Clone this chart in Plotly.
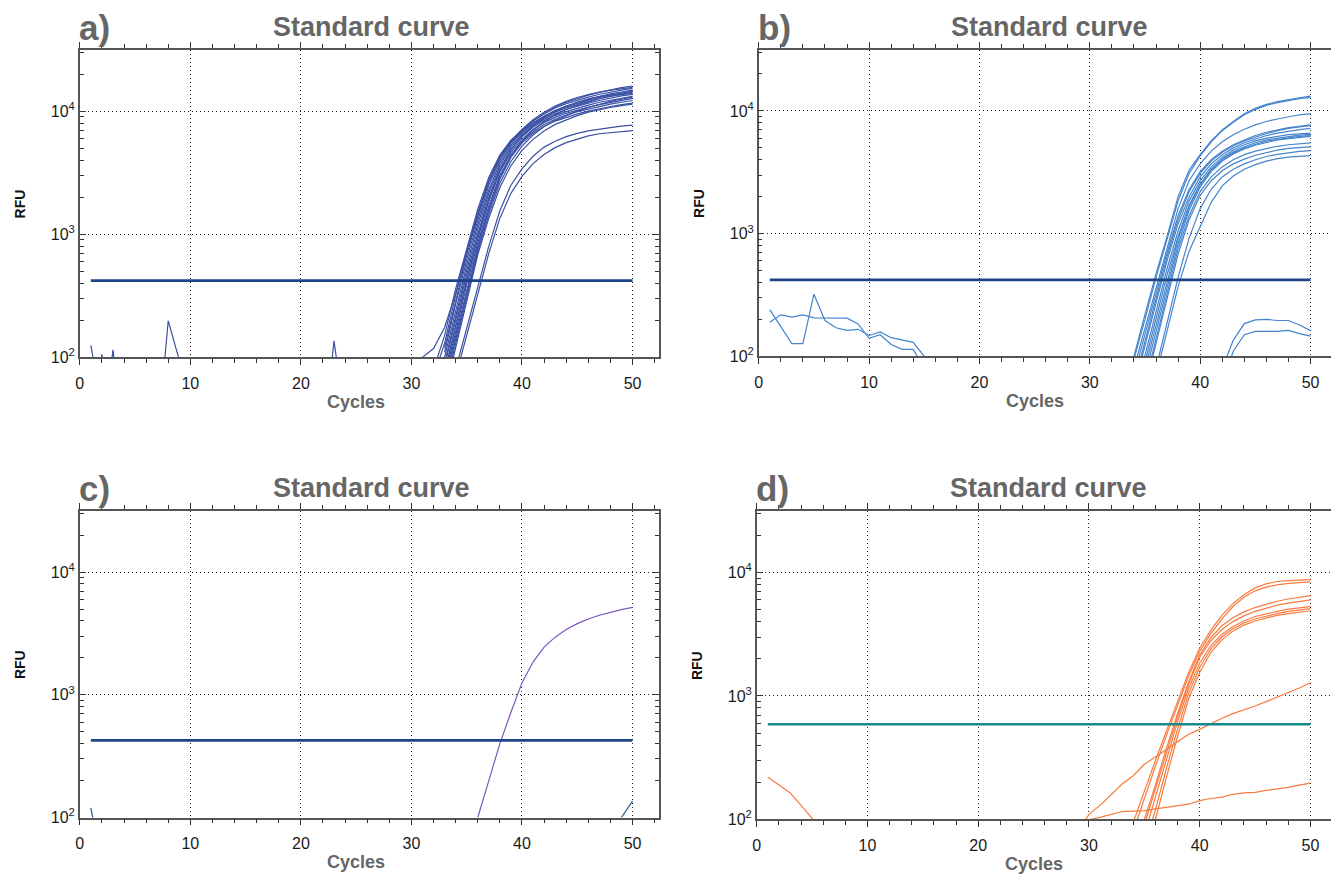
import plotly.graph_objects as go

# ---------------- data ----------------
# Panel a) : amplification curves (start cycle, RFU values per cycle)
a_starts = [32, 32, 33, 33, 33, 33, 33, 33, 33, 33, 33, 33, 33, 33, 30, 34, 34]
a_values = [
    [80, 150, 360, 780, 1600, 2900, 4400, 5800, 6900, 8300, 9500, 10800, 11800, 12700, 13500, 14200, 14900, 15500, 16000],
    [70, 130, 320, 720, 1500, 2750, 4300, 5700, 7000, 8300, 9500, 10600, 11500, 12300, 13000, 13700, 14300, 14800, 15300],
    [110, 270, 620, 1300, 2500, 4000, 5500, 6800, 8000, 9100, 10100, 11000, 11800, 12500, 13200, 13800, 14300, 14800],
    [100, 240, 560, 1200, 2300, 3800, 5300, 6600, 7800, 8900, 9800, 10600, 11300, 12000, 12600, 13200, 13700, 14200],
    [90, 220, 510, 1100, 2150, 3600, 5100, 6400, 7600, 8600, 9500, 10300, 11000, 11600, 12200, 12800, 13300, 13700],
    [85, 200, 470, 1000, 2000, 3400, 4900, 6200, 7400, 8400, 9200, 9900, 10600, 11200, 11800, 12300, 12800, 13200],
    [75, 180, 430, 920, 1850, 3200, 4600, 5900, 7100, 8100, 8900, 9600, 10200, 10800, 11300, 11800, 12300, 12700],
    [70, 160, 390, 850, 1700, 3000, 4400, 5700, 6800, 7800, 8600, 9300, 9900, 10400, 10900, 11400, 11800, 12200],
    [60, 140, 340, 760, 1550, 2800, 4200, 5500, 6600, 7500, 8300, 8900, 9500, 10000, 10500, 10900, 11300, 11600],
    [120, 290, 680, 1400, 2650, 4200, 5700, 7100, 8500, 9800, 11000, 12000, 12900, 13600, 14300, 14800, 15200, 15600],
    [75, 180, 420, 950, 1900, 3300, 4800, 6200, 7600, 8800, 9900, 10800, 11600, 12300, 12900, 13500, 14000, 14500],
    [55, 130, 320, 720, 1450, 2600, 3900, 5200, 6400, 7500, 8400, 9200, 10000, 10700, 11400, 12000, 12500, 13000],
    [50, 120, 300, 680, 1350, 2400, 3600, 4800, 5900, 6900, 7800, 8500, 9200, 9800, 10300, 10700, 11100, 11400],
    [65, 150, 360, 800, 1600, 2900, 4300, 5700, 7000, 8200, 9300, 10300, 11100, 11900, 12600, 13200, 13600, 14000],
    [60, 100, 118, 175, 330, 720, 1450, 2700, 4200, 5600, 6800, 8000, 9100, 10100, 11000, 11800, 12500, 13100, 13600, 14100, 14500],
    [80, 170, 380, 800, 1550, 2500, 3400, 4300, 5100, 5700, 6200, 6600, 6900, 7150, 7350, 7550, 7700],
    [70, 150, 330, 700, 1350, 2150, 2950, 3750, 4450, 5050, 5550, 5950, 6300, 6550, 6700, 6850, 6950],
]
# baseline noise spikes in panel a)
a_noise_starts = [1, 1, 2, 7, 22]
a_noise_values = [
    [125, 40],
    [20, 106, 20],
    [20, 115, 20],
    [20, 198, 95, 40],
    [20, 136, 30],
]

# Panel b)
b_starts = [33, 33, 34, 34, 34, 34, 34, 35, 35, 35, 35, 35, 36, 36, 1, 1, 42, 42]
b_values = [
    [60, 100, 220, 470, 950, 2000, 3300, 4400, 5700, 7000, 8200, 9500, 10500, 11300, 11900, 12400, 12800, 13200],
    [55, 95, 200, 440, 900, 1850, 3100, 4300, 5600, 6900, 8100, 9300, 10300, 11100, 11700, 12200, 12600, 12900],
    [80, 170, 370, 780, 1600, 2700, 3700, 4700, 5600, 6400, 7100, 7700, 8200, 8600, 9000, 9300, 9500],
    [70, 150, 330, 700, 1400, 2300, 3200, 4000, 4700, 5300, 5800, 6300, 6700, 7000, 7300, 7500, 7700],
    [60, 135, 300, 650, 1300, 2200, 3100, 3900, 4600, 5200, 5700, 6150, 6550, 6900, 7200, 7400, 7600],
    [55, 120, 270, 600, 1200, 2000, 2900, 3700, 4400, 5000, 5500, 5900, 6300, 6600, 6850, 7050, 7200],
    [45, 100, 230, 520, 1050, 1850, 2700, 3500, 4200, 4800, 5300, 5700, 6000, 6200, 6400, 6500, 6600],
    [90, 200, 460, 950, 1700, 2550, 3350, 4050, 4650, 5100, 5500, 5800, 6000, 6200, 6350, 6450],
    [80, 180, 420, 900, 1650, 2500, 3300, 4000, 4550, 5000, 5350, 5650, 5850, 6050, 6200, 6300],
    [70, 160, 380, 820, 1550, 2400, 3200, 3900, 4450, 4900, 5250, 5550, 5800, 5950, 6100, 6200],
    [60, 140, 340, 750, 1400, 2200, 2900, 3500, 4000, 4400, 4700, 4950, 5150, 5300, 5400, 5500],
    [55, 125, 300, 680, 1300, 2050, 2700, 3250, 3700, 4050, 4350, 4600, 4800, 4950, 5050, 5100],
    [80, 190, 440, 920, 1600, 2300, 2900, 3350, 3700, 4000, 4250, 4420, 4570, 4680, 4750],
    [70, 160, 370, 720, 1150, 1800, 2450, 2950, 3350, 3650, 3900, 4080, 4200, 4280, 4330],
    [240, 175, 127, 127, 321, 196, 171, 163, 166, 148, 158, 142, 136, 130, 100, 70],
    [190, 218, 209, 218, 206, 206, 205, 205, 184, 140, 150, 125, 114, 114, 80],
    [80, 135, 185, 198, 200, 196, 196, 180, 162],
    [60, 110, 150, 160, 160, 160, 163, 153, 146],
]

# Panel c)
c_starts = [35]
c_values = [
    [60, 100, 200, 400, 720, 1250, 1850, 2450, 2950, 3400, 3800, 4150, 4450, 4700, 4950, 5150],
]
c_noise_starts = [1, 48]
c_noise_values = [
    [120, 40],
    [50, 100, 136],
]

# Panel d)
d_starts = [34, 34, 35, 35, 35, 35, 35, 29, 29, 1]
d_values = [
    [95, 170, 300, 520, 900, 1550, 2450, 3400, 4500, 5600, 6600, 7500, 8100, 8450, 8600, 8700, 8750],
    [80, 150, 270, 480, 850, 1450, 2300, 3200, 4200, 5300, 6300, 7100, 7600, 7950, 8150, 8300, 8400],
    [100, 190, 380, 720, 1300, 2150, 2950, 3700, 4300, 4800, 5200, 5550, 5850, 6100, 6300, 6500],
    [90, 175, 350, 680, 1250, 2050, 2800, 3450, 4000, 4450, 4850, 5150, 5450, 5650, 5850, 6000],
    [75, 150, 310, 620, 1150, 1850, 2550, 3150, 3650, 4050, 4400, 4650, 4850, 5050, 5200, 5300],
    [60, 120, 260, 540, 1050, 1700, 2400, 3000, 3500, 3900, 4200, 4450, 4650, 4850, 5000, 5100],
    [50, 100, 220, 470, 950, 1550, 2250, 2850, 3350, 3750, 4050, 4300, 4500, 4650, 4800, 4900],
    [80, 110, 130, 160, 194, 226, 280, 320, 370, 430, 490, 537, 600, 660, 720, 770, 830, 900, 980, 1060, 1160, 1280],
    [85, 100, 104, 110, 116, 117, 118, 122, 126, 130, 133, 142, 148, 152, 160, 164, 166, 172, 176, 182, 190, 197],
    [220, 190, 165, 130, 102, 70],
]

# thresholds (RFU) and the cycles they span
thresholds = [420, 420, 425, 590]
threshold_cycles = [1, 50]

panel_labels = ["a)", "b)", "c)", "d)"]
panel_title = "Standard curve"
x_title = "Cycles"
y_title = "RFU"
x_ticks = [0, 10, 20, 30, 40, 50]
y_ticks = [100, 1000, 10000]
y_ticktext = ["10<sup>2</sup>", "10<sup>3</sup>", "10<sup>4</sup>"]

# ---------------- styling / layout ----------------
PAGE_OFF = 8                     # default body margin of the html page
W, H = 1339 - PAGE_OFF, 876 - PAGE_OFF
curve_colors = ["rgb(58,80,165)", "rgb(68,132,205)", "rgb(125,85,190)", "rgb(248,122,62)"]
noise_colors = ["rgb(58,80,165)", "rgb(68,132,205)", "rgb(35,90,160)", "rgb(248,122,62)"]
thr_colors = ["rgb(28,68,135)", "rgb(28,68,135)", "rgb(28,68,135)", "rgb(22,138,138)"]
GRAY = "#666666"
NARROW = "Liberation Sans Narrow, Arial Narrow, Liberation Sans, Arial, sans-serif"
SANS = "Liberation Sans, Arial, sans-serif"

# plot-area rectangles in screen pixels: (left, right, top, bottom)
rects = [(76, 657, 50, 361), (757, 1337, 50, 360), (76, 657, 516, 826), (755, 1337, 516, 828)]


def px_x(p):
    return (p - PAGE_OFF) / W


def px_y(p):
    return 1 - (p - PAGE_OFF) / H


panels = [
    (a_starts, a_values, a_noise_starts, a_noise_values),
    (b_starts, b_values, [], []),
    (c_starts, c_values, c_noise_starts, c_noise_values),
    (d_starts, d_values, [], []),
]

fig = go.Figure()
layout = dict(
    width=W, height=H, margin=dict(l=0, r=0, t=0, b=0),
    paper_bgcolor="white", plot_bgcolor="white", showlegend=False,
)
annotations = []

minor_y = [k * 10 ** e for e in (2, 3, 4) for k in range(2, 10) if k * 10 ** e < 31623]

for i, (starts, values, nstarts, nvalues) in enumerate(panels):
    n = "" if i == 0 else str(i + 1)
    xa, ya = "x" + n, "y" + n
    for s, v in zip(nstarts, nvalues):
        fig.add_trace(go.Scatter(x=list(range(s, s + len(v))), y=v, mode="lines",
                                 line=dict(color=noise_colors[i], width=1.2),
                                 xaxis=xa, yaxis=ya, hoverinfo="skip"))
    for s, v in zip(starts, values):
        fig.add_trace(go.Scatter(x=list(range(s, s + len(v))), y=v, mode="lines",
                                 line=dict(color=curve_colors[i], width=1.2),
                                 xaxis=xa, yaxis=ya))
    fig.add_trace(go.Scatter(x=threshold_cycles, y=[thresholds[i]] * 2, mode="lines",
                             line=dict(color=thr_colors[i], width=2.6),
                             xaxis=xa, yaxis=ya))

    L, R, T, B = rects[i]
    layout["xaxis" + n] = dict(
        domain=[px_x(L), px_x(R)], anchor=ya, range=[0, 52.4], tickvals=x_ticks,
        showline=True, linecolor="#555555", linewidth=1.5, mirror="allticks",
        ticks="outside", ticklen=6, tickcolor="#333333", tickwidth=1.2,
        ticklabelstandoff=5,
        minor=dict(ticks="outside", ticklen=4, dtick=2, tickcolor="#333333", showgrid=False),
        showgrid=True, gridcolor="#222222", griddash="1px,3px", gridwidth=1.3,
        zeroline=False, tickfont=dict(family=SANS, size=16, color="#1a1a1a"),
    )
    layout["yaxis" + n] = dict(
        domain=[px_y(B), px_y(T)], anchor=xa, type="log", range=[2, 4.5],
        tickvals=y_ticks, ticktext=y_ticktext,
        showline=True, linecolor="#555555", linewidth=1.5, mirror="allticks",
        ticks="inside", ticklen=6, tickcolor="#333333", tickwidth=1.2,
        minor=dict(ticks="inside", ticklen=4, tickvals=minor_y, tickcolor="#333333", showgrid=False),
        showgrid=True, gridcolor="#222222", griddash="1px,3px", gridwidth=1.3,
        zeroline=False, tickfont=dict(family=SANS, size=16, color="#1a1a1a"),
    )
    # panel letter
    annotations.append(dict(text="<b>%s</b>" % panel_labels[i], xref="paper", yref="paper",
                            x=px_x(L - 3), y=px_y(T - 22), xanchor="left", yanchor="middle",
                            showarrow=False, font=dict(family=NARROW, size=35, color=GRAY)))
    # title
    annotations.append(dict(text="<b>%s</b>" % panel_title, xref="paper", yref="paper",
                            x=px_x((L + R) / 2 + 2), y=px_y(T - 23), xanchor="center", yanchor="middle",
                            showarrow=False, font=dict(family=NARROW, size=27, color=GRAY)))
    # x title centred on cycle 25
    annotations.append(dict(text="<b>%s</b>" % x_title, xref=xa, yref="paper",
                            x=25, y=px_y(B + 45), xanchor="center", yanchor="middle",
                            showarrow=False, font=dict(family=NARROW, size=18, color=GRAY)))
    # y title
    annotations.append(dict(text="<b>%s</b>" % y_title, xref="paper", yref="paper",
                            x=px_x(L - 60), y=px_y((T + B) / 2), xanchor="center", yanchor="middle",
                            textangle=-90, showarrow=False,
                            font=dict(family=SANS, size=14, color="#111111")))

layout["annotations"] = annotations
fig.update_layout(**layout)
fig.write_html("out.html")
